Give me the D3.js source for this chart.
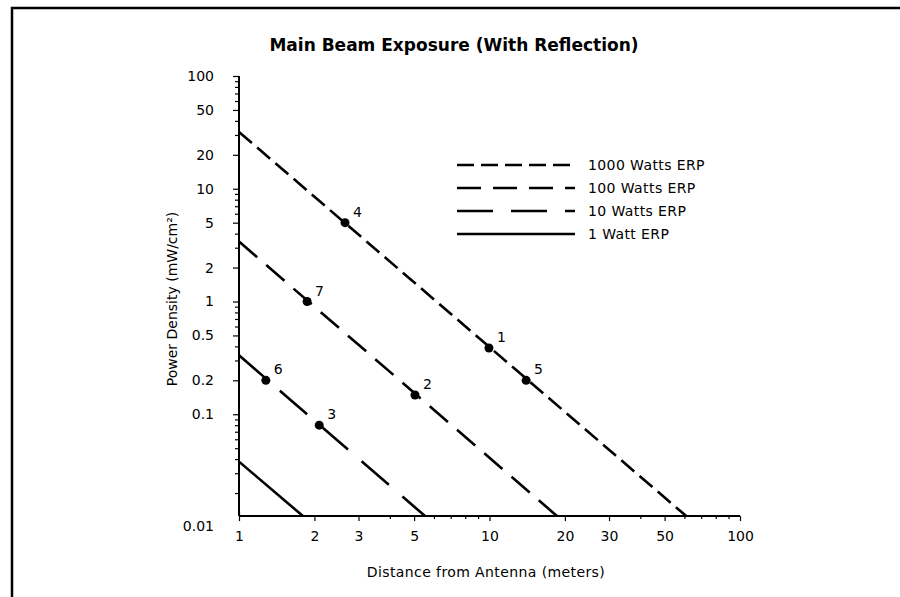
<!DOCTYPE html>
<html>
<head>
<meta charset="utf-8">
<script src="https://cdn.jsdelivr.net/npm/d3@7"></script>
<style>
  body { margin: 0; background: #fff; }
  svg text { font-family: "DejaVu Sans", sans-serif; fill: #000; }
</style>
</head>
<body>
<div class="chart"></div>
<script>

  //////////
  // Data //
  //////////

  var seriesNames = ['1000 Watts ERP', '100 Watts ERP', '10 Watts ERP', '1 Watt ERP'];
  // density at 1 m, and the distance where each line meets the bottom axis
  var startDensity = [31.9, 3.4, 0.333, 0.038];
  var endDistance = [61, 18.6, 5.53, 1.8];
  var floorDensity = 0.0125;

  var pointLabels = ['1', '2', '3', '4', '5', '6', '7'];
  var pointDistance = [9.95, 5.04, 2.09, 2.65, 14.0, 1.28, 1.87];
  var pointDensity = [0.387, 0.148, 0.08, 5.0, 0.2, 0.2, 1.0];

  var xTickLabels = [1, 2, 3, 5, 10, 20, 30, 50, 100];
  var yTickLabels = [0.1, 0.2, 0.5, 1, 2, 5, 10, 20, 50, 100];

  ///////////
  // Setup //
  ///////////

  var svg = d3.select('.chart')
              .append('svg')
              .attr('width', 900)
              .attr('height', 597);

  var x = d3.scaleLog().domain([1, 100]).range([239, 740]);
  var y = d3.scaleLog().domain([0.01, 100]).range([527, 76]);
  var axisY = y(floorDensity);

  var dashes = ['17,7', '24,12', '36,18', null];

  // frame, only left and top edges show
  svg.append('path')
     .attr('d', 'M12,600V8H903')
     .attr('fill', 'none')
     .attr('stroke', '#000')
     .attr('stroke-width', 2.5);

  svg.append('text')
     .attr('x', 454)
     .attr('y', 51)
     .attr('text-anchor', 'middle')
     .style('font-size', '17px')
     .style('font-weight', 'bold')
     .text('Main Beam Exposure (With Reflection)');

  //////////
  // Axes //
  //////////

  var minorX = [];
  var minorY = [];
  [1, 10].forEach(function(d){
    for (var k = 2; k < 10; k++) { minorX.push(d * k); }
  });
  [0.01, 0.1, 1, 10].forEach(function(d){
    for (var k = 2; k < 10; k++) { if (d * k > floorDensity) minorY.push(d * k); }
  });

  var xAxis = d3.axisBottom(x)
                .tickValues(minorX.concat([1, 10, 100]))
                .tickSize(4)
                .tickSizeOuter(0)
                .tickFormat(function(d){ return xTickLabels.indexOf(d) > -1 ? d : ''; });

  var gx = svg.append('g')
              .attr('transform', 'translate(0,' + axisY + ')')
              .call(xAxis);
  gx.select('.domain').remove();
  gx.selectAll('.tick line').attr('stroke-width', 1.2)
    .attr('y1', function(d){ return d === 1 ? -4 : 0; })
    .attr('y2', function(d){ return xTickLabels.indexOf(d) > -1 ? 5 : 3; });
  gx.selectAll('.tick text').attr('y', 15)
    .style('font-size', '14px')
    .style('font-family', '"DejaVu Sans", sans-serif');

  var yAxis = d3.axisLeft(y)
                .tickValues(minorY.concat([0.1, 1, 10, 100]))
                .tickSize(4)
                .tickSizeOuter(0)
                .tickFormat(function(d){ return yTickLabels.indexOf(d) > -1 ? d : ''; });

  var gy = svg.append('g')
              .attr('transform', 'translate(239,0)')
              .call(yAxis);
  gy.select('.domain').remove();
  gy.selectAll('.tick line').attr('stroke-width', 1.2)
    .attr('x2', function(d){ return yTickLabels.indexOf(d) > -1 ? -6 : -4; });
  gy.selectAll('.tick text').attr('x', -25)
    .style('font-size', '14px')
    .style('font-family', '"DejaVu Sans", sans-serif');

  gy.append('text')
    .attr('x', -25)
    .attr('y', y(0.01))
    .attr('dy', '0.32em')
    .attr('text-anchor', 'end')
    .style('font-size', '14px')
    .text('0.01');

  svg.append('line')
     .attr('x1', x(1)).attr('x2', x(100))
     .attr('y1', axisY).attr('y2', axisY)
     .attr('stroke', '#000').attr('stroke-width', 2);
  svg.append('line')
     .attr('x1', x(1)).attr('x2', x(1))
     .attr('y1', y(100)).attr('y2', axisY)
     .attr('stroke', '#000').attr('stroke-width', 2);

  svg.append('text')
     .attr('x', 486)
     .attr('y', 577)
     .attr('text-anchor', 'middle')
     .style('font-size', '14px')
     .style('letter-spacing', '0.4px')
     .text('Distance from Antenna (meters)');

  svg.append('text')
     .attr('transform', 'translate(177,299) rotate(-90)')
     .attr('text-anchor', 'middle')
     .style('font-size', '14px')
     .text('Power Density (mW/cm²)');

  ///////////
  // Lines //
  ///////////

  var line = d3.line()
               .x(function(d){ return x(d[0]); })
               .y(function(d){ return y(d[1]); });

  seriesNames.forEach(function(name, i){
    svg.append('path')
       .datum([[1, startDensity[i]], [endDistance[i], floorDensity]])
       .attr('d', line)
       .attr('fill', 'none')
       .attr('stroke', '#000')
       .attr('stroke-width', 2.6)
       .attr('stroke-dasharray', dashes[i]);
  });

  ////////////
  // Points //
  ////////////

  pointLabels.forEach(function(label, i){
    var px = x(pointDistance[i]);
    var py = y(pointDensity[i]);
    svg.append('circle')
       .attr('cx', px)
       .attr('cy', py)
       .attr('r', 4.5)
       .attr('fill', '#000');
    svg.append('text')
       .attr('x', px + 8)
       .attr('y', py - 6)
       .style('font-size', '14px')
       .text(label);
  });

  ////////////
  // Legend //
  ////////////

  var legendY = [165, 188, 211, 234];

  seriesNames.forEach(function(name, i){
    svg.append('line')
       .attr('x1', 457).attr('x2', 575)
       .attr('y1', legendY[i]).attr('y2', legendY[i])
       .attr('stroke', '#000')
       .attr('stroke-width', 2.6)
       .attr('stroke-dasharray', dashes[i]);
    svg.append('text')
       .attr('x', 588)
       .attr('y', legendY[i])
       .attr('dy', '0.35em')
       .style('font-size', '14px')
       .style('letter-spacing', '0.4px')
       .text(name);
  });

</script>
</body>
</html>
